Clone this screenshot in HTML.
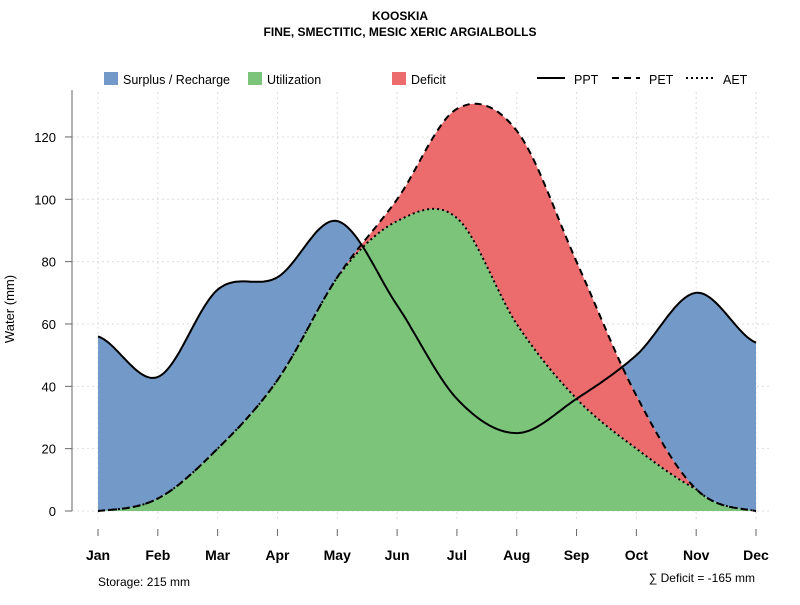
<!DOCTYPE html>
<html><head><meta charset="utf-8"><style>
body{margin:0;background:#fff;font-family:"Liberation Sans",sans-serif}
svg text{font-family:"Liberation Sans","DejaVu Sans",sans-serif}
</style></head><body>
<svg id="c" width="800" height="600" xmlns="http://www.w3.org/2000/svg">
<text x="400" y="20" text-anchor="middle" font-size="12" font-weight="bold">KOOSKIA</text>
<text x="400" y="36" text-anchor="middle" font-size="12" font-weight="bold">FINE, SMECTITIC, MESIC XERIC ARGIALBOLLS</text>
<g id="grid"></g><g id="fills"></g><g id="lines"></g><g id="axes"></g>
<g>
<rect x="104" y="72" width="14" height="13" fill="#7399c8"/>
<text x="123" y="84" font-size="12.5">Surplus / Recharge</text>
<rect x="248" y="72" width="14" height="13" fill="#7dc47b"/>
<text x="267" y="84" font-size="12.5">Utilization</text>
<rect x="392" y="72" width="14" height="13" fill="#ec6b6d"/>
<text x="411" y="84" font-size="12.5">Deficit</text>
<line x1="537" y1="78" x2="565" y2="78" stroke="#000" stroke-width="2"/>
<text x="574" y="84" font-size="12.5">PPT</text>
<line x1="612" y1="78" x2="640" y2="78" stroke="#000" stroke-width="2" stroke-dasharray="7,5"/>
<text x="649" y="84" font-size="12.5">PET</text>
<line x1="686" y1="78" x2="714" y2="78" stroke="#000" stroke-width="2" stroke-dasharray="2,3"/>
<text x="723" y="84" font-size="12.5">AET</text>
</g>
<text transform="translate(14,309) rotate(-90)" text-anchor="middle" font-size="13">Water (mm)</text>
<text x="98" y="586" font-size="12">Storage: 215 mm</text>
<text x="755" y="582" text-anchor="end" font-size="12">∑ Deficit = -165 mm</text>
</svg>
<script>
const months=["Jan","Feb","Mar","Apr","May","Jun","Jul","Aug","Sep","Oct","Nov","Dec"];
const ppt=[56,43,71,75,93,66,36,25,36,50,70,54];
const pet=[0,4,20,42,75,100,129,122,80,37,7,0];
const aet=[0,4,20,42,75,93,94,60,36,20,7,0];
const yTicks=[0,20,40,60,80,100,120];
const NS="http://www.w3.org/2000/svg";
const xs=i=>98+i*(756-98)/11, ys=v=>511-v*3.117;
function mk(t,a,p){const e=document.createElementNS(NS,t);for(const k in a)e.setAttribute(k,a[k]);document.getElementById(p).appendChild(e);return e;}
function interp(arr){const out=[];const n=arr.length;for(let i=0;i<n-1;i++){const p0=arr[Math.max(i-1,0)],p1=arr[i],p2=arr[i+1],p3=arr[Math.min(i+2,n-1)];for(let s=0;s<30;s++){const t=s/30;const v=0.5*((2*p1)+(-p0+p2)*t+(2*p0-5*p1+4*p2-p3)*t*t+(-p0+3*p1-3*p2+p3)*t*t*t);out.push([i+t,v]);}}out.push([n-1,arr[n-1]]);return out;}
const Pc=interp(ppt),Ec=interp(pet),Ac=interp(aet).map((d,k)=>[d[0],Math.min(d[1],Ec[k][1])]);
const pts=a=>a.map(d=>xs(d[0]).toFixed(1)+","+ys(Math.max(d[1],0)).toFixed(1));
yTicks.forEach(v=>{const g=mk("line",{x1:72,x2:770,y1:ys(v),y2:ys(v),stroke:"#ddd","stroke-dasharray":"2,3"},"grid");


const t=mk("line",{x1:65,x2:72,y1:ys(v),y2:ys(v),stroke:"#666"},"axes");


const l=mk("text",{x:56,y:ys(v)+5,"text-anchor":"end","font-size":13},"axes");l.textContent=v;

});
months.forEach((m,i)=>{const g=mk("line",{x1:xs(i),x2:xs(i),y1:92,y2:521,stroke:"#ddd","stroke-dasharray":"2,3"},"grid");


const t=mk("line",{x1:xs(i),x2:xs(i),y1:529,y2:536,stroke:"#666"},"axes");


const l=mk("text",{x:xs(i),y:560,"text-anchor":"middle","font-size":14,"font-weight":"bold"},"axes");l.textContent=m;

});
const ax=mk("line",{x1:72,x2:72,y1:90,y2:511,stroke:"#666"},"axes");


const upper=Pc.map((d,k)=>[d[0],Math.max(d[1],Ec[k][1])]);
const blue=mk("polygon",{points:pts(upper).concat(pts(Ec).reverse()).join(" "),fill:"#7399c8"},"fills");


const red=mk("polygon",{points:pts(Ec).concat(pts(Ac).reverse()).join(" "),fill:"#ec6b6d"},"fills");


const green=mk("polygon",{points:pts(Ac).concat([xs(11)+","+ys(0),xs(0)+","+ys(0)]).join(" "),fill:"#7dc47b"},"fills");


const l1=mk("polyline",{points:pts(Pc).join(" "),fill:"none",stroke:"#000","stroke-width":2},"lines");


const l2=mk("polyline",{points:pts(Ec).join(" "),fill:"none",stroke:"#000","stroke-width":2,"stroke-dasharray":"7,5"},"lines");


const l3=mk("polyline",{points:pts(Ac).join(" "),fill:"none",stroke:"#000","stroke-width":2,"stroke-dasharray":"2,3"},"lines");


</script>
</body></html>
